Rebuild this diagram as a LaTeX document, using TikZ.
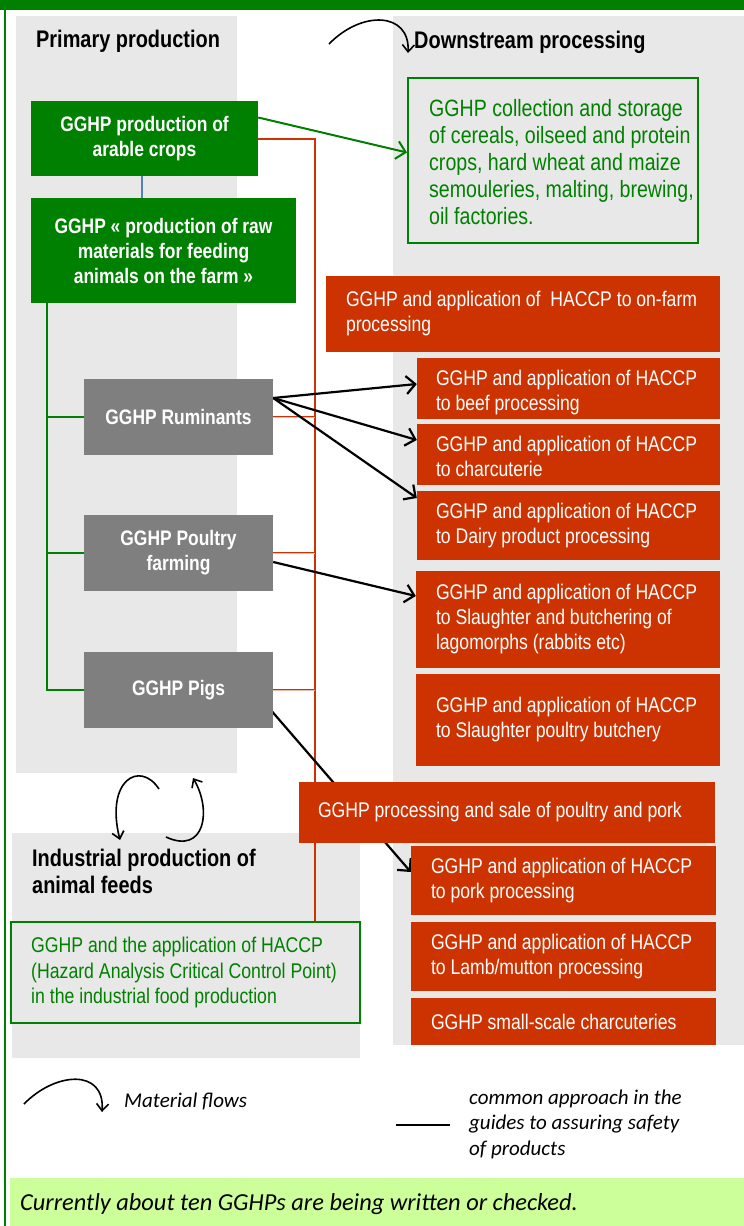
\documentclass[tikz,border=0pt]{standalone}
\usepackage{fontspec}
\setmainfont{Liberation Sans}
\newfontfamily\nar{Liberation Sans}[FakeStretch=0.83]
\newfontfamily\carl{Carlito}
\usetikzlibrary{arrows.meta}
\definecolor{gg}{HTML}{008000}
\definecolor{rr}{HTML}{CC3300}
\definecolor{gy}{HTML}{7F7F7F}
\definecolor{pnl}{HTML}{E8E8E8}
\definecolor{lgr}{HTML}{CCFF99}
\definecolor{bl}{HTML}{4F81BD}
\pgfdeclarelayer{back}
\pgfdeclarelayer{bg}
\pgfsetlayers{back,bg,main}
\tikzset{
  gbox/.style={fill=gg, text=white, font=\nar\bfseries\fontsize{21}{25}\selectfont, align=center, inner sep=0pt},
  gybox/.style={fill=gy, text=white, font=\nar\bfseries\fontsize{21}{25}\selectfont, align=center, inner sep=0pt, minimum width=189pt, minimum height=76pt},
  rbox/.style={fill=rr, inner sep=0pt},
  obox/.style={draw=gg, line width=2pt, inner sep=0pt},
  rtext/.style={text=white, font=\nar\fontsize{21.2}{25}\selectfont, align=left, inner sep=0pt, anchor=west},
  otext/.style={text=gg, font=\nar\fontsize{23.6}{27}\selectfont, align=left, inner sep=0pt, anchor=west},
  head/.style={font=\nar\bfseries\fontsize{24}{27}\selectfont, align=left, inner sep=0pt, anchor=west},
  gline/.style={draw=gg, line width=2pt},
  rline/.style={draw=rr, line width=2pt},
  rbranch/.style={draw=rr, line width=0.9pt, double=rr!35, double distance=0.9pt},
  blarrow/.style={draw=black, line width=2.2pt, -{Straight Barb[length=9pt,width=18pt,line width=2.2pt]}},
  flow/.style={draw=black, line width=1.6pt, -{Straight Barb[length=7pt,width=12pt,line width=1.6pt]}},
  leg/.style={font=\carl\itshape\fontsize{21}{25.5}\selectfont, align=left, inner sep=0pt, anchor=west},
}
\begin{document}
\begin{tikzpicture}[x=1pt,y=-1pt]
\useasboundingbox (0,0) rectangle (744,1226);
\begin{pgfonlayer}{back}
\fill[white] (0,0) rectangle (744,1226);
\fill[pnl] (16,16) rectangle (237,773);
\fill[pnl] (393,16) rectangle (744,1045);
\fill[pnl] (12,833) rectangle (360,1058);
\fill[gg] (0,0) rectangle (744,10);
\fill[lgr] (10,1178) rectangle (744,1226);
\draw[gg, line width=2pt] (5,0) -- (5,1226);
\end{pgfonlayer}

% headings
\node[head] (hprim) at (36,41) {Primary production};
\node[head] (hdown) at (414,42) {Downstream processing};
\node[head] (hind) at (32,871) {Industrial production of\\animal feeds};

% primary production
\node[gbox, minimum width=227pt, minimum height=75pt] (arable) at (144.5,138.5) {GGHP production of\\arable crops};
\node[gbox, minimum width=265pt, minimum height=105pt] (raw) at (163.5,250.5) {GGHP \guillemotleft\ production of raw\\materials for feeding\\animals on the farm \guillemotright};
\node[gybox] (rum) at (178.5,417) {GGHP Ruminants};
\node[gybox] (poul) at (178.5,553) {GGHP Poultry\\farming};
\node[gybox] (pigs) at (178.5,690) {GGHP Pigs};

% downstream
\node[obox, minimum width=290pt, minimum height=165pt] (collect) at (553,160.5) {};
\node[otext] (collect-t) at ([xshift=22pt,yshift=-2pt]collect.west) {GGHP collection and storage\\of cereals, oilseed and protein\\crops, hard wheat and maize\\semouleries, malting, brewing,\\oil factories.};

\node[rbox, minimum width=394pt, minimum height=76pt] (onfarm) at (523,314) {};
\node[rtext] (onfarm-t) at ([xshift=20pt]onfarm.west) {GGHP and application of\ \ HACCP to on-farm\\processing};
\node[rbox, minimum width=303pt, minimum height=61pt] (beef) at (568.5,388.5) {};
\node[rtext] (beef-t) at ([xshift=19pt,yshift=-4pt]beef.west) {GGHP and application of HACCP\\to beef processing};
\node[rbox, minimum width=303pt, minimum height=61pt] (charc) at (568.5,454.5) {};
\node[rtext] (charc-t) at ([xshift=19pt,yshift=-2pt]charc.west) {GGHP and application of HACCP\\to charcuterie};
\node[rbox, minimum width=303pt, minimum height=69pt] (dairy) at (568.5,525.5) {};
\node[rtext] (dairy-t) at ([xshift=19pt]dairy.west) {GGHP and application of HACCP\\to Dairy product processing};
\node[rbox, minimum width=304pt, minimum height=97pt] (lago) at (568,619.5) {};
\node[rtext] (lago-t) at ([xshift=20pt]lago.west) {GGHP and application of HACCP\\to Slaughter and butchering of\\lagomorphs (rabbits etc)};
\node[rbox, minimum width=304pt, minimum height=92pt] (slpoul) at (568,720) {};
\node[rtext] (slpoul-t) at ([xshift=20pt]slpoul.west) {GGHP and application of HACCP\\to Slaughter poultry butchery};
\node[rbox, minimum width=416pt, minimum height=61pt] (procsale) at (507,812.5) {};
\node[rtext] (procsale-t) at ([xshift=19pt]procsale.west) {GGHP processing and sale of poultry and pork};
\node[rbox, minimum width=305pt, minimum height=69pt] (pork) at (563.5,880.5) {};
\node[rtext] (pork-t) at ([xshift=20pt]pork.west) {GGHP and application of HACCP\\to pork processing};
\node[rbox, minimum width=305pt, minimum height=69pt] (lamb) at (563.5,956.5) {};
\node[rtext] (lamb-t) at ([xshift=20pt]lamb.west) {GGHP and application of HACCP\\to Lamb/mutton processing};
\node[rbox, minimum width=305pt, minimum height=47pt] (small) at (563.5,1021.5) {};
\node[rtext] (small-t) at ([xshift=20pt]small.west) {GGHP small-scale charcuteries};

% industrial
\node[obox, minimum width=349pt, minimum height=101pt] (ind) at (185.5,972.5) {};
\node[otext, font=\nar\fontsize{21.3}{25.5}\selectfont] (ind-t) at ([xshift=21pt]ind.west) {GGHP and the application of HACCP\\(Hazard Analysis Critical Control Point)\\in the industrial food production};

% legend
\node[leg] (leg1) at (124,1101) {Material flows};
\node[leg] (leg2) at (469,1124) {common approach in the\\guides to assuring safety\\of products};
\coordinate (l2a) at (396,1125);
\coordinate (l2b) at (450,1125);
\draw[black, line width=2pt] (l2a) -- (l2b);
\node[leg, font=\carl\itshape\fontsize{24.4}{25}\selectfont] (note) at (20,1204) {Currently about ten GGHPs are being written or checked.};

% connectors
\begin{pgfonlayer}{bg}
\coordinate (gx) at (47,0);
\coordinate (rx) at (315,0);
\coordinate (bx) at (142,0);
\draw[bl, line width=1.5pt] (arable.south -| bx) -- (raw.north -| bx);
\draw[gline] (raw.south -| gx) |- (pigs.west);
\draw[gline] (rum.west) -- (rum.west -| gx);
\draw[gline] (poul.west) -- (poul.west -| gx);
\draw[rline] (arable.east) -| (rx |- ind.north);
\draw[rbranch] (rum.east) -- (rum.east -| rx);
\draw[rbranch] (poul.east) -- (poul.east -| rx);
\draw[rbranch] (pigs.east) -- (pigs.east -| rx);
\draw[gline, -{Straight Barb[length=9pt,width=18pt,line width=2pt]}] ([yshift=21pt]arable.east) -- ([yshift=8pt]collect.west);
\draw[blarrow] ([yshift=19pt]rum.east) -- ([yshift=4.5pt]beef.west);
\draw[blarrow] ([yshift=19pt]rum.east) -- ([yshift=14.5pt]charc.west);
\draw[blarrow] ([yshift=19pt]rum.east) -- ([yshift=27.5pt]dairy.west);
\draw[blarrow] ([yshift=-9pt]poul.east) -- ([yshift=23.5pt]lago.west);
\draw[blarrow] ([xshift=-5pt,yshift=-17pt]pigs.east) -- ([yshift=8.5pt]pork.west);
\end{pgfonlayer}

% material flow curves
\draw[flow] (329,44) .. controls (362,10) and (410,12) .. (408,53);
\draw[flow] (159,789) .. controls (140,760) and (105,780) .. (120,840);
\draw[flow] (166,837) .. controls (205,855) and (212,810) .. (193,778);
\draw[flow] (24,1104) .. controls (55,1072) and (105,1068) .. (102,1112);
\end{tikzpicture}
\end{document}
